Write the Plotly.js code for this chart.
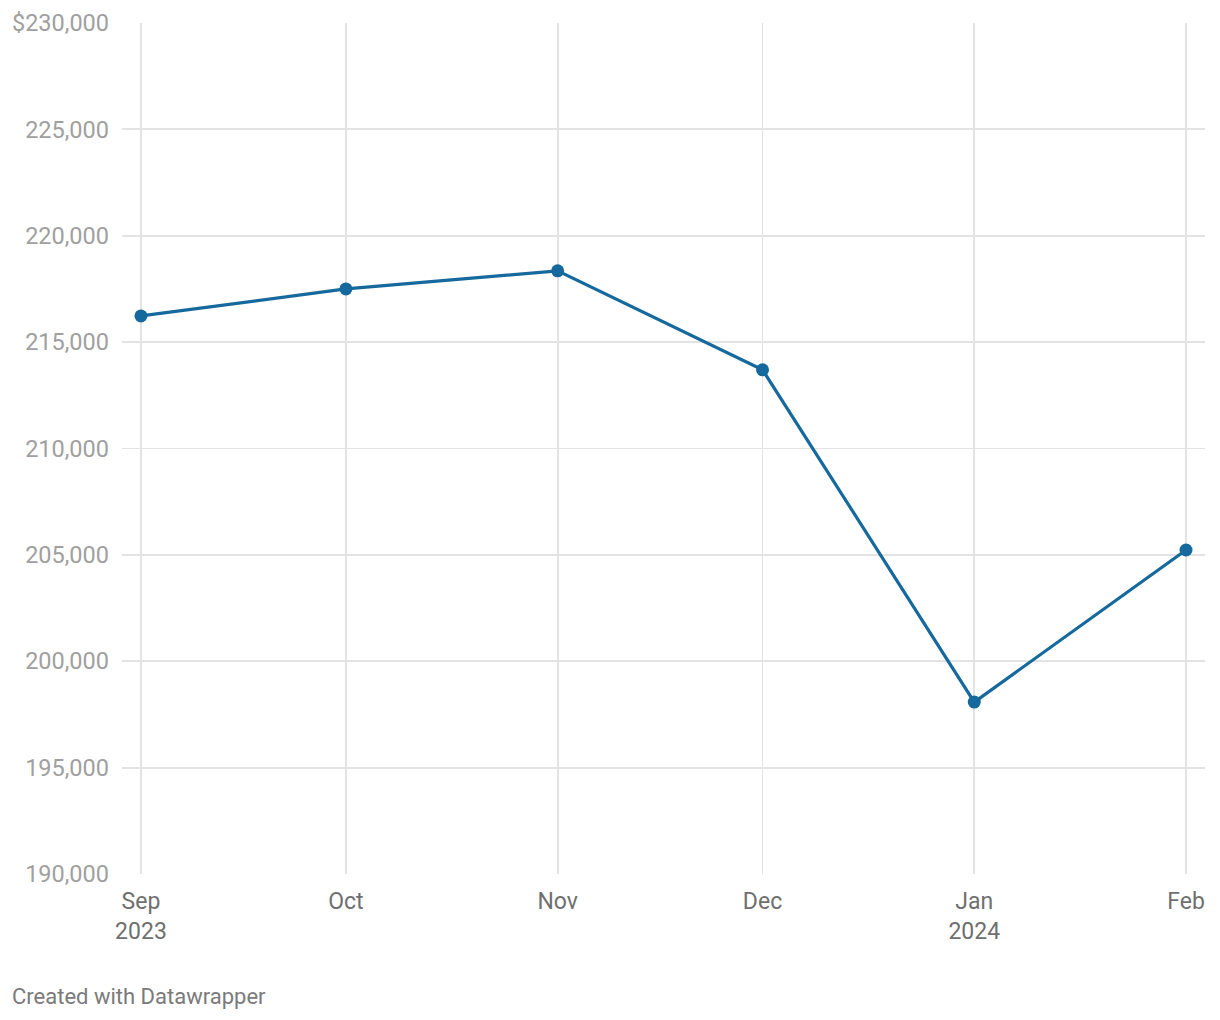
<!DOCTYPE html>
<html>
<head>
<meta charset="utf-8">
<script src="https://cdn.plot.ly/plotly-3.0.1.min.js"></script>
<style>
  html, body { margin: 0; padding: 0; background: #fff; }
  #chart { width: 1220px; height: 1020px; }
</style>
</head>
<body>
<div id="chart"></div>
<script>
const months = ['2023-09-01', '2023-10-01', '2023-11-01', '2023-12-01', '2024-01-01', '2024-02-01'];
const values = [216230, 217500, 218350, 213700, 198080, 205230];
const xTickText = ['Sep<br>2023', 'Oct', 'Nov', 'Dec', 'Jan<br>2024', 'Feb'];
const yTickVals = [190000, 195000, 200000, 205000, 210000, 215000, 220000, 225000, 230000];
const yTickText = ['190,000', '195,000', '200,000', '205,000', '210,000', '215,000', '220,000', '225,000', '$230,000'];

const trace = {
  x: months,
  y: values,
  type: 'scatter',
  mode: 'lines+markers',
  line: { color: '#15699c', width: 3.2 },
  marker: { color: '#15699c', size: 13 },
  hoverinfo: 'x+y'
};

const layout = {
  width: 1220,
  height: 1020,
  margin: { l: 122, r: 15, t: 23, b: 146 },
  paper_bgcolor: '#ffffff',
  plot_bgcolor: '#ffffff',
  showlegend: false,
  font: { family: 'Roboto, sans-serif', size: 23, color: '#6f6f6f' },
  xaxis: {
    type: 'date',
    range: ['2023-08-29 05:20', '2024-02-03 18:40'],
    tickvals: months,
    ticktext: xTickText,
    showgrid: true,
    gridcolor: '#e3e3e3',
    gridwidth: 1.8,
    zeroline: false,
    showline: false,
    ticks: '',
    tickfont: { family: 'Roboto, sans-serif', size: 23, color: '#6f6f6f' },
    ticklabelstandoff: 11,
    fixedrange: true
  },
  yaxis: {
    range: [190000, 230000],
    tickvals: yTickVals,
    ticktext: yTickText,
    showgrid: true,
    gridcolor: '#e3e3e3',
    gridwidth: 1.8,
    zeroline: false,
    showline: false,
    ticks: '',
    tickfont: { family: 'Roboto, sans-serif', size: 23.5, color: '#a0a0a0' },
    ticklabelstandoff: 12,
    fixedrange: true
  },
  annotations: [{
    text: 'Created with Datawrapper',
    xref: 'paper', yref: 'paper',
    x: -0.1035, y: -0.1445,
    xanchor: 'left', yanchor: 'middle',
    showarrow: false,
    font: { family: 'Roboto, sans-serif', size: 22, color: '#7a7a7a' }
  }]
};

Plotly.newPlot('chart', [trace], layout, { displayModeBar: false, staticPlot: true });
</script>
</body>
</html>
